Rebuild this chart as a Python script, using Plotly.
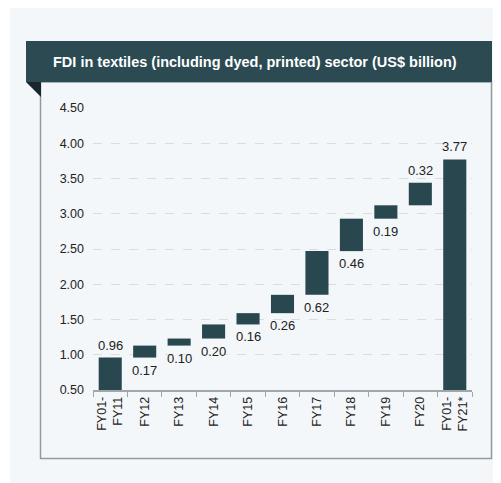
import plotly.graph_objects as go

categories = ["FY01-<br>FY11", "FY12", "FY13", "FY14", "FY15", "FY16",
              "FY17", "FY18", "FY19", "FY20", "FY01-<br>FY21*"]
values = [0.96, 0.17, 0.10, 0.20, 0.16, 0.26, 0.62, 0.46, 0.19, 0.32, 3.77]
measures = ["relative"] * 10 + ["absolute"]
label_side = ["above", "below", "below", "below", "below", "below",
              "below", "below", "below", "above", "above"]
y_ticks = [0.5, 1.0, 1.5, 2.0, 2.5, 3.0, 3.5, 4.0, 4.5]

W, H = 501, 483
OFF = 8  # page body margin offset
L, R, T, B = 93 - OFF, 472 - OFF, 108 - OFF, 390 - OFF  # plot area in figure pixels

BAR = "#29474f"
TXT = "#222222"
BG = "#f4f7f9"
FONT = "Liberation Sans, Arial, sans-serif"

fig = go.Figure(go.Waterfall(
    x=categories, y=values, measure=measures,
    increasing=dict(marker=dict(color=BAR)),
    decreasing=dict(marker=dict(color=BAR)),
    totals=dict(marker=dict(color=BAR)),
    connector=dict(visible=False),
    hoverinfo="skip",
))

# label annotations placed at bar ends computed from the data
cum = 0.0
for cat, v, m, side in zip(categories, values, measures, label_side):
    if m == "absolute":
        bottom, top = 0.0, v
        cum = v
    else:
        bottom, top = cum, cum + v
        cum = top
    if side == "above":
        fig.add_annotation(x=cat, y=top, text=f"{v:.2f}", showarrow=False,
                           yanchor="bottom", yshift=3,
                           font=dict(size=13, color=TXT, family=FONT))
    else:
        fig.add_annotation(x=cat, y=bottom, text=f"{v:.2f}", showarrow=False,
                           yanchor="top", yshift=-3,
                           font=dict(size=13, color=TXT, family=FONT))

def fx(px):
    return (px - OFF - L) / (R - L)

def fy(py):
    return (B - (py - OFF)) / (B - T)

shapes = [
    # thin white strip at the far left
    dict(type="rect", xref="paper", yref="paper", x0=fx(0), x1=fx(10),
         y0=fy(0), y1=fy(H + 20), fillcolor="white", line=dict(width=0), layer="below"),
    # panel border
    dict(type="rect", xref="paper", yref="paper", x0=fx(40.5), x1=fx(491.5),
         y0=fy(82), y1=fy(458.5), fillcolor="rgba(0,0,0,0)",
         line=dict(color="#8e9ca2", width=1.5), layer="below"),
    # title bar
    dict(type="rect", xref="paper", yref="paper", x0=fx(26), x1=fx(492),
         y0=fy(41), y1=fy(82), fillcolor="#2b4a52", line=dict(width=0), layer="above"),
    # fold triangle
    dict(type="path", xref="paper", yref="paper",
         path=f"M {fx(26)} {fy(82)} L {fx(41)} {fy(82)} L {fx(41)} {fy(97)} Z",
         fillcolor="#17272c", line=dict(width=0), layer="above"),
]

fig.add_annotation(xref="paper", yref="paper", x=fx(255), y=fy(62),
                   text="<b>FDI in textiles (including dyed, printed) sector (US$ billion)</b>",
                   showarrow=False, xanchor="center", yanchor="middle",
                   font=dict(size=14.5, color="white", family=FONT))

fig.update_layout(
    width=W, height=H,
    margin=dict(l=L, r=W - R, t=T, b=H - B),
    paper_bgcolor=BG, plot_bgcolor="rgba(0,0,0,0)",
    showlegend=False, waterfallgap=0.33,
    shapes=shapes,
    font=dict(family=FONT, color=TXT, size=12.5),
)
fig.update_xaxes(
    showgrid=False, showline=True, linecolor="#a0a6a9", linewidth=1.5,
    ticks="outside", tickson="boundaries", ticklen=5, tickcolor="#a0a6a9",
    tickangle=-90, tickfont=dict(size=12.5, color=TXT, family=FONT),
    range=[-0.5, 10.5],
)
fig.update_yaxes(
    range=[0.5, 4.5], tickvals=y_ticks, ticktext=[f"{t:.2f}" for t in y_ticks],
    showgrid=True, gridcolor="#d9dddf", griddash="dash", gridwidth=1,
    zeroline=False, showline=False, ticks="", ticklabelstandoff=8,
    tickfont=dict(size=12.5, color=TXT, family=FONT),
)

fig.write_html("out.html")
